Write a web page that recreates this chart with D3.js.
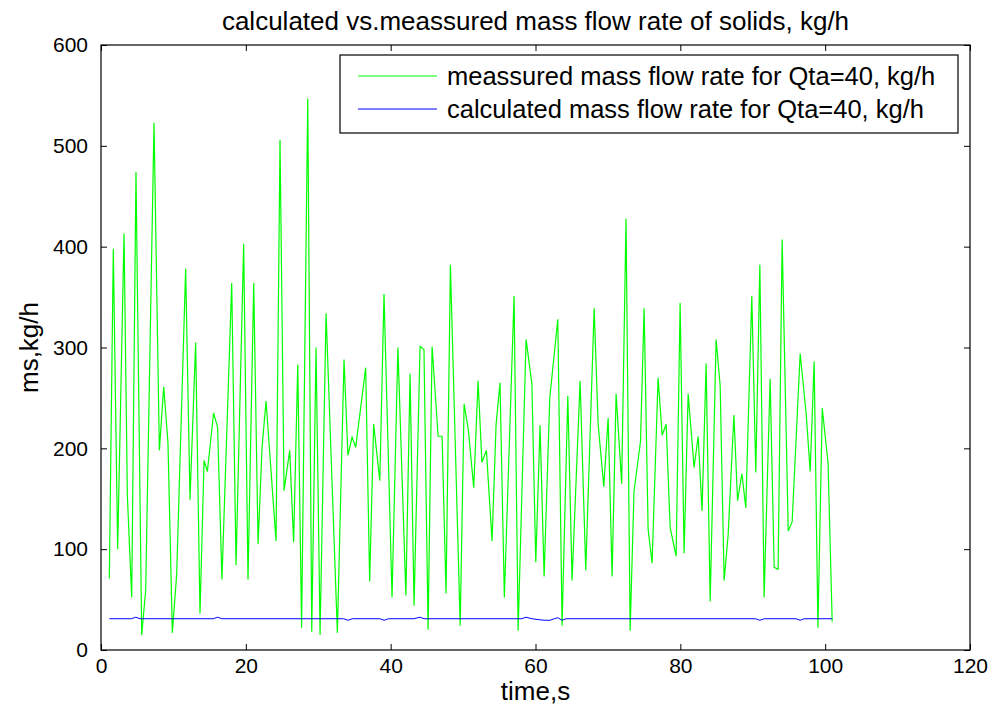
<!DOCTYPE html>
<html>
<head>
<meta charset="utf-8">
<script src="https://cdnjs.cloudflare.com/ajax/libs/d3/7.8.5/d3.min.js"></script>
<style>
    body { margin: 0; background: #fff; }
    svg { display: block; font-family: "Liberation Sans", Arial, sans-serif; }
</style>
</head>
<body>
<svg id="chart" width="994" height="710"></svg>
<script>

var measuredTime = [
    1.15, 1.70, 2.30, 3.18, 3.64, 4.24, 4.83, 5.62, 6.17, 7.32,
    8.06, 8.66, 9.25, 9.85, 10.45, 11.69, 12.29, 13.07, 13.67, 14.23,
    14.69, 15.55, 16.10, 16.70, 18.05, 18.65, 19.70, 20.30, 21.09, 21.69,
    22.24, 22.79, 24.17, 24.72, 25.28, 26.06, 26.60, 27.17, 27.70, 28.55,
    29.10, 29.70, 30.25, 31.08, 32.64, 33.56, 34.10, 34.67, 35.17, 36.55,
    37.10, 37.65, 38.50, 39.08, 40.19, 41.00, 42.10, 42.68, 43.23, 44.06,
    44.60, 45.17, 45.72, 46.55, 47.10, 47.65, 48.25, 49.60, 50.14, 50.73,
    51.47, 52.07, 52.60, 53.22, 54.00, 54.56, 55.10, 55.70, 57.04, 57.60,
    58.70, 59.50, 60.04, 60.63, 61.19, 61.97, 63.08, 63.67, 64.46, 65.05,
    66.16, 66.94, 68.10, 68.65, 69.43, 70.03, 70.58, 71.13, 71.90, 72.50,
    73.07, 73.60, 74.50, 75.00, 75.55, 76.10, 76.93, 77.49, 78.04, 78.60,
    79.42, 79.97, 80.52, 81.08, 81.90, 82.46, 83.00, 83.56, 84.12, 84.94,
    85.50, 86.05, 86.60, 87.40, 87.90, 88.50, 89.04, 89.87, 90.42, 90.98,
    91.57, 92.40, 92.96, 93.50, 94.06, 94.90, 95.44, 96.55, 97.38, 97.93,
    98.48, 99.00, 99.60, 100.40, 100.97
];
var measuredValue = [
    71, 398, 100, 413, 153, 52, 474, 15, 59, 523,
    198, 261, 205, 17, 75, 378, 149, 305, 36, 188,
    177, 235, 221, 70, 364, 84, 403, 70, 364, 105,
    201, 247, 108, 506, 158, 198, 107, 283, 22, 547,
    18, 300, 15, 334, 17, 288, 193, 211, 201, 280,
    68, 224, 168, 353, 52, 300, 54, 274, 44, 301,
    298, 20, 301, 212, 212, 56, 382, 24, 244, 218,
    161, 267, 186, 198, 108, 224, 265, 52, 351, 19,
    308, 264, 87, 223, 73, 250, 328, 24, 252, 69,
    267, 79, 339, 224, 162, 230, 73, 254, 165, 428,
    19, 157, 207, 339, 120, 86, 270, 213, 224, 121,
    93, 344, 96, 254, 181, 212, 138, 284, 48, 308,
    262, 69, 114, 233, 148, 175, 141, 351, 176, 382,
    52, 269, 82, 80, 407, 118, 127, 294, 234, 177,
    286, 22, 240, 185, 28
];

// calculated mass flow rate (blue), nearly flat
var calcTime = [
    1.15, 4.2, 4.8, 5.4, 15.5, 16.1, 16.7, 33.5, 34.1, 34.7,
    38.5, 39.1, 39.7, 43.2, 44.06, 44.6, 58.1, 58.7, 59.5, 60.6,
    61.2, 62.0, 62.6, 63.08, 63.67, 64.2, 90.4, 90.98, 91.6, 96.0,
    96.55, 97.1, 100.97
];
var calcValue = [
    31, 31, 32.5, 31, 31, 32.5, 31, 31, 29.5, 31,
    31, 29.5, 31, 31, 32.5, 31, 31, 32.5, 31, 30,
    29.5, 29.5, 31, 32, 29.5, 31, 31, 29.5, 31, 31,
    29.5, 31, 31
];

var xTicks = [0, 20, 40, 60, 80, 100, 120];
var yTicks = [0, 100, 200, 300, 400, 500, 600];

var seriesNames = [
    "meassured mass flow rate for Qta=40, kg/h",
    "calculated mass flow rate for Qta=40, kg/h"
];
var seriesColors = ["#00ff00", "#0000ff"];

var svg = d3.select("#chart"),
    margin = {top: 45, right: 24, bottom: 60, left: 101},
    width = +svg.attr("width") - margin.left - margin.right,
    height = +svg.attr("height") - margin.top - margin.bottom;

svg.append("rect").attr("width", 994).attr("height", 710).attr("fill", "#fff");

var x = d3.scaleLinear().domain([0, 120]).range([0, width]),
    y = d3.scaleLinear().domain([0, 600]).range([height, 0]);

var g = svg.append("g")
    .attr("transform", "translate(" + margin.left + "," + margin.top + ")");

// axes with inward ticks, mirrored on top and right
g.append("g")
    .attr("transform", "translate(0," + height + ")")
    .call(d3.axisBottom(x).tickValues(xTicks).tickSizeInner(-6).tickSizeOuter(0).tickPadding(8))
    .call(styleAxis);

g.append("g")
    .call(d3.axisLeft(y).tickValues(yTicks).tickSizeInner(-6).tickSizeOuter(0).tickPadding(13))
    .call(styleAxis);

g.append("g")
    .call(d3.axisTop(x).tickValues(xTicks).tickSizeInner(-6).tickSizeOuter(0).tickFormat(""))
    .call(styleAxis);

g.append("g")
    .attr("transform", "translate(" + width + ",0)")
    .call(d3.axisRight(y).tickValues(yTicks).tickSizeInner(-6).tickSizeOuter(0).tickFormat(""))
    .call(styleAxis);

function styleAxis(sel) {
    sel.select(".domain").remove();
    sel.selectAll(".tick line").attr("stroke", "#000");
    sel.selectAll(".tick text")
        .attr("fill", "#000")
        .style("font-size", "21px")
        .style("font-family", "'Liberation Sans', Arial, sans-serif");
}

// plot frame
g.append("rect")
    .attr("width", width)
    .attr("height", height)
    .attr("fill", "none")
    .attr("stroke", "#000")
    .attr("stroke-width", 1.2);

var line = d3.line()
    .x(function(d) { return x(d[0]); })
    .y(function(d) { return y(d[1]); });

g.append("path")
    .datum(d3.zip(measuredTime, measuredValue))
    .attr("fill", "none")
    .attr("stroke", seriesColors[0])
    .attr("stroke-width", 1.2)
    .attr("d", line);

g.append("path")
    .datum(d3.zip(calcTime, calcValue))
    .attr("fill", "none")
    .attr("stroke", seriesColors[1])
    .attr("stroke-width", 1)
    .attr("d", line);

// title and axis labels
svg.append("text")
    .attr("x", margin.left + width / 2)
    .attr("y", 30)
    .attr("text-anchor", "middle")
    .style("font-size", "26px")
    .text("calculated vs.meassured mass flow rate of solids, kg/h");

svg.append("text")
    .attr("x", margin.left + width / 2)
    .attr("y", 700)
    .attr("text-anchor", "middle")
    .style("font-size", "26px")
    .text("time,s");

svg.append("text")
    .attr("transform", "translate(38," + (margin.top + height / 2) + ") rotate(-90)")
    .attr("text-anchor", "middle")
    .style("font-size", "26px")
    .text("ms,kg/h");

// legend
var legend = svg.append("g").attr("transform", "translate(340,55)");

legend.append("rect")
    .attr("width", 618)
    .attr("height", 78)
    .attr("fill", "#fff")
    .attr("stroke", "#000")
    .attr("stroke-width", 1.2);

seriesNames.forEach(function(name, i) {
    var ly = 21 + i * 33;
    legend.append("line")
        .attr("x1", 18).attr("x2", 97)
        .attr("y1", ly).attr("y2", ly)
        .attr("stroke", seriesColors[i]);
    legend.append("text")
        .attr("x", 107)
        .attr("y", ly)
        .attr("dy", "0.35em")
        .style("font-size", "25.5px")
        .text(name);
});
</script>
</body>
</html>
